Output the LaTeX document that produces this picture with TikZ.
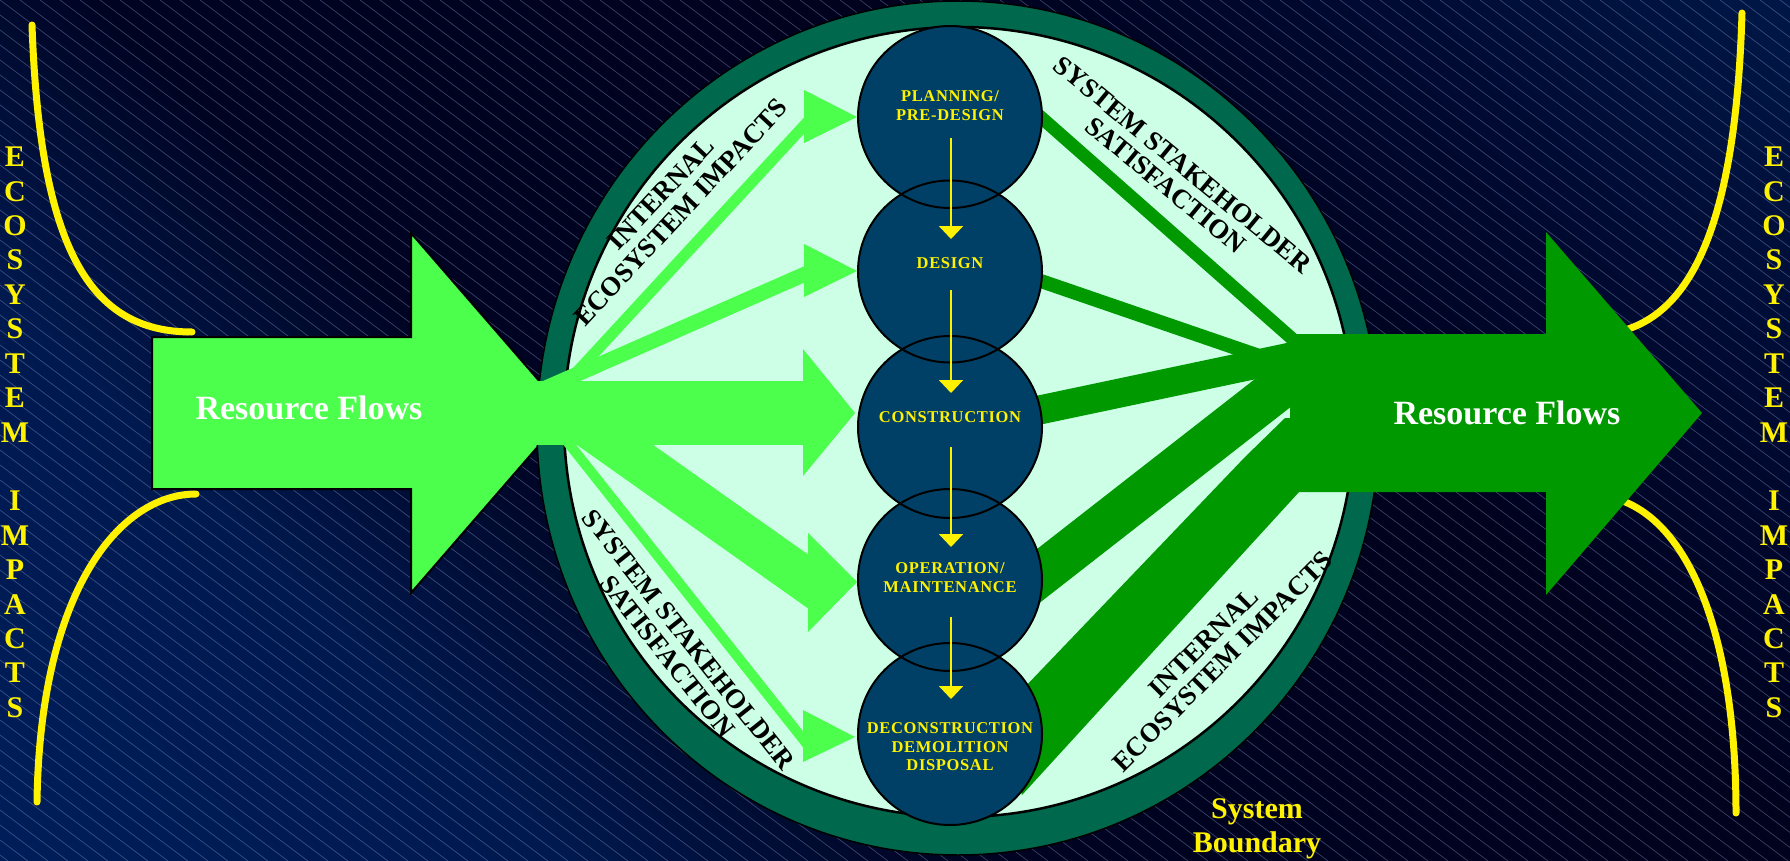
\documentclass[tikz,border=0pt]{standalone}
\usepackage{fontspec}
\setmainfont{Liberation Serif}
\usetikzlibrary{arrows.meta,shapes.geometric}
\definecolor{lgreen}{RGB}{77,255,77}
\definecolor{dgreen}{RGB}{0,153,0}
\definecolor{ringgreen}{RGB}{0,104,76}
\definecolor{mint}{RGB}{204,255,230}
\definecolor{stageblue}{RGB}{0,64,102}
\definecolor{hatchc}{RGB}{150,160,205}
\definecolor{bgdark}{RGB}{0,4,34}
\begin{document}
\begin{tikzpicture}[x=1pt,y=-1pt,
  ycurve/.style={draw=yellow,line width=7pt,line cap=round},
  stage/.style={ellipse,fill=stageblue,minimum width=184pt,minimum height=182pt,inner sep=0pt},
  stagetext/.style={text=yellow,font=\bfseries\fontsize{16.5}{18.5}\selectfont\addfontfeatures{LetterSpace=4},align=center,inner sep=0pt},
  lbl/.style={text=black,font=\bfseries\fontsize{27}{27}\selectfont,align=center,inner sep=0pt},
  eco/.style={text=yellow,font=\bfseries\fontsize{30}{30}\selectfont,inner sep=0pt,anchor=center},
  flowtext/.style={text=white,font=\bfseries\fontsize{34}{34}\selectfont,inner sep=0pt,anchor=base},
  bndtext/.style={text=yellow,font=\bfseries\fontsize{30}{30}\selectfont,inner sep=0pt,anchor=base},
  ydown/.style={draw=yellow,line width=2pt,-{Triangle[width=24pt,length=13pt]}}
]
\useasboundingbox (0,0) rectangle (1790,861);
% background
\begin{scope}
\clip (0,0) rectangle (1790,861);
\fill[bgdark] (0,0) rectangle (1790,861);
\foreach \v in {-880,-860,...,1800} {
  \pgfmathsetmacro{\vv}{\v+10}
  \pgfmathsetmacro{\ga}{30-(\vv+861)/561*4}
  \pgfmathsetmacro{\gb}{26-(\vv+300)/400*22}
  \pgfmathsetmacro{\gc}{4-(\vv-100)/850*2}
  \pgfmathsetmacro{\gd}{2+(\vv-950)/400*8}
  \pgfmathsetmacro{\ge}{10+(\vv-1350)/440*14}
  \pgfmathtruncatemacro{\gg}{ifthenelse(\vv < -300, \ga, ifthenelse(\vv < 100, \gb, ifthenelse(\vv < 950, \gc, ifthenelse(\vv < 1350, \gd, \ge))))}
  \pgfmathsetmacro{\ba}{90-(\vv+861)/561*10}
  \pgfmathsetmacro{\bbb}{80-(\vv+300)/400*46}
  \pgfmathsetmacro{\bc}{34-(\vv-100)/850*4}
  \pgfmathsetmacro{\bd}{30+(\vv-950)/400*20}
  \pgfmathsetmacro{\be}{50+(\vv-1350)/440*22}
  \pgfmathtruncatemacro{\bb}{ifthenelse(\vv < -300, \ba, ifthenelse(\vv < 100, \bbb, ifthenelse(\vv < 950, \bc, ifthenelse(\vv < 1350, \bd, \be))))}
  \definecolor{bandc}{RGB}{0,\gg,\bb}
  \fill[bandc] (\v-100,-100) -- (\v+1000,1000) -- (\v+1021,1000) -- (\v-79,-100) -- cycle;
}
\foreach \c in {-1160,-1140,...,1800} {
  \draw[hatchc,line width=0.7pt,opacity=0.38] (\c,0) -- (\c+1148,861);
}
\end{scope}

% yellow curves
\draw[ycurve] (32,25) .. controls (40,250) and (90,332) .. (192,332);
\draw[ycurve] (196,494) .. controls (120,494) and (40,590) .. (37,802);
\draw[ycurve] (1742,13) .. controls (1735,250) and (1680,335) .. (1590,335);
\draw[ycurve] (1590,495) .. controls (1680,495) and (1736,620) .. (1736,813);

% left big arrow
\filldraw[fill=lgreen,draw=black,line width=2pt,line join=miter]
  (152,337) -- (411,337) -- (411,233) -- (567,413) -- (411,593) -- (411,489) -- (152,489) -- cycle;

% system boundary ring
\filldraw[fill=ringgreen,draw=black,line width=1.5pt] (958,428) ellipse [x radius=421pt,y radius=427pt];
\filldraw[fill=mint,draw=black,line width=2.5pt] (959,422) circle [radius=395pt];

% light green fan arrows
\draw[lgreen,line width=11pt] (551,400) -- (812,117);
\draw[lgreen,line width=15pt] (540,390.5) -- (812,271);
\draw[lgreen,line width=44pt] (577,418) -- (830,597);
\draw[lgreen,line width=10pt] (558,430) -- (810,748);
\fill[lgreen] (530,381) rectangle (805,445);
\fill[lgreen] (804,90) -- (857,117) -- (804,143) -- cycle;
\fill[lgreen] (804,244) -- (857,271) -- (804,297) -- cycle;
\fill[lgreen] (803,349) -- (855,413) -- (803,476) -- cycle;
\fill[lgreen] (808,533) -- (857,582) -- (808,632) -- cycle;
\fill[lgreen] (803,710) -- (855,737) -- (803,762) -- cycle;

% dark green fan and right big arrow
\draw[dgreen,line width=13pt] (1035,112) -- (1297,343);
\draw[dgreen,line width=14pt] (1035,279) -- (1300,370);
\draw[dgreen,line width=29pt] (1030,412) -- (1300,355);
\draw[dgreen,line width=44pt] (1010,598) -- (1310,364);
\fill[dgreen] (1000,713) -- (1245,457) -- (1285,418) -- (1310,418) -- (1310,480) -- (1022,795) -- cycle;
\fill[dgreen] (1290,334) -- (1546,334) -- (1546,232) -- (1702,413) -- (1546,595) -- (1546,492) -- (1290,492) -- cycle;

% stage circles
\node[stage] (sp) at (950,117) {};
\node[stage] (sd) at (950,271.5) {};
\node[stage] (sc) at (950,427) {};
\node[stage] (so) at (950,580) {};
\node[stage] (sx) at (950,734) {};
\foreach \n in {sp,sd,sc,so,sx} {
  \draw[black,line width=2pt] (\n.center) ellipse [x radius=92pt,y radius=91pt];
}
\node[stagetext] (tp) at (950,105.5) {PLANNING/\\PRE-DESIGN};
\node[stagetext] (td) at (950,263) {DESIGN};
\node[stagetext] (tc) at (950,417) {CONSTRUCTION};
\node[stagetext] (to) at (950,577.5) {OPERATION/\\MAINTENANCE};
\node[stagetext] (tx) at (950,747) {DECONSTRUCTION\\DEMOLITION\\DISPOSAL};

% yellow stage arrows
\draw[ydown] ([xshift=1pt,yshift=-21pt]sp.center) -- ([xshift=1pt,yshift=32.5pt]sd.center);
\draw[ydown] ([xshift=1pt,yshift=-18.5pt]sd.center) -- ([xshift=1pt,yshift=34pt]sc.center);
\draw[ydown] ([xshift=1pt,yshift=-20pt]sc.center) -- ([xshift=1pt,yshift=33pt]so.center);
\draw[ydown] ([xshift=1pt,yshift=-37pt]so.center) -- ([xshift=1pt,yshift=35pt]sx.center);

% rotated labels
\node[lbl,rotate=47] (iel) at (671,203) {INTERNAL\\ECOSYSTEM IMPACTS};
\node[lbl,rotate=-39.5] (ssr) at (1174,175) {SYSTEM STAKEHOLDER\\SATISFACTION};
\node[lbl,rotate=-51.5] (ssl) at (678,648) {SYSTEM STAKEHOLDER\\SATISFACTION};
\node[lbl,rotate=45] (ier) at (1213,652) {INTERNAL\\ECOSYSTEM IMPACTS};

% resource flows
\node[flowtext] (rfl) at (309,419) {Resource Flows};
\node[flowtext] (rfr) at (1507,424) {Resource Flows};

% system boundary
\node[bndtext] (sb1) at (1257,818) {System};
\node[bndtext] (sb2) at (1257,852) {Boundary};

% ecosystem impacts columns
\foreach \L [count=\i] in {E,C,O,S,Y,S,T,E,M,I,M,P,A,C,T,S} {
  \pgfmathsetmacro{\yy}{157+34.4*(\i-1)+ifthenelse(\i>9,34.4,0)}
  \node[eco] (el\i) at (15,\yy) {\L};
  \node[eco] (er\i) at (1774,\yy) {\L};
}
\end{tikzpicture}
\end{document}
